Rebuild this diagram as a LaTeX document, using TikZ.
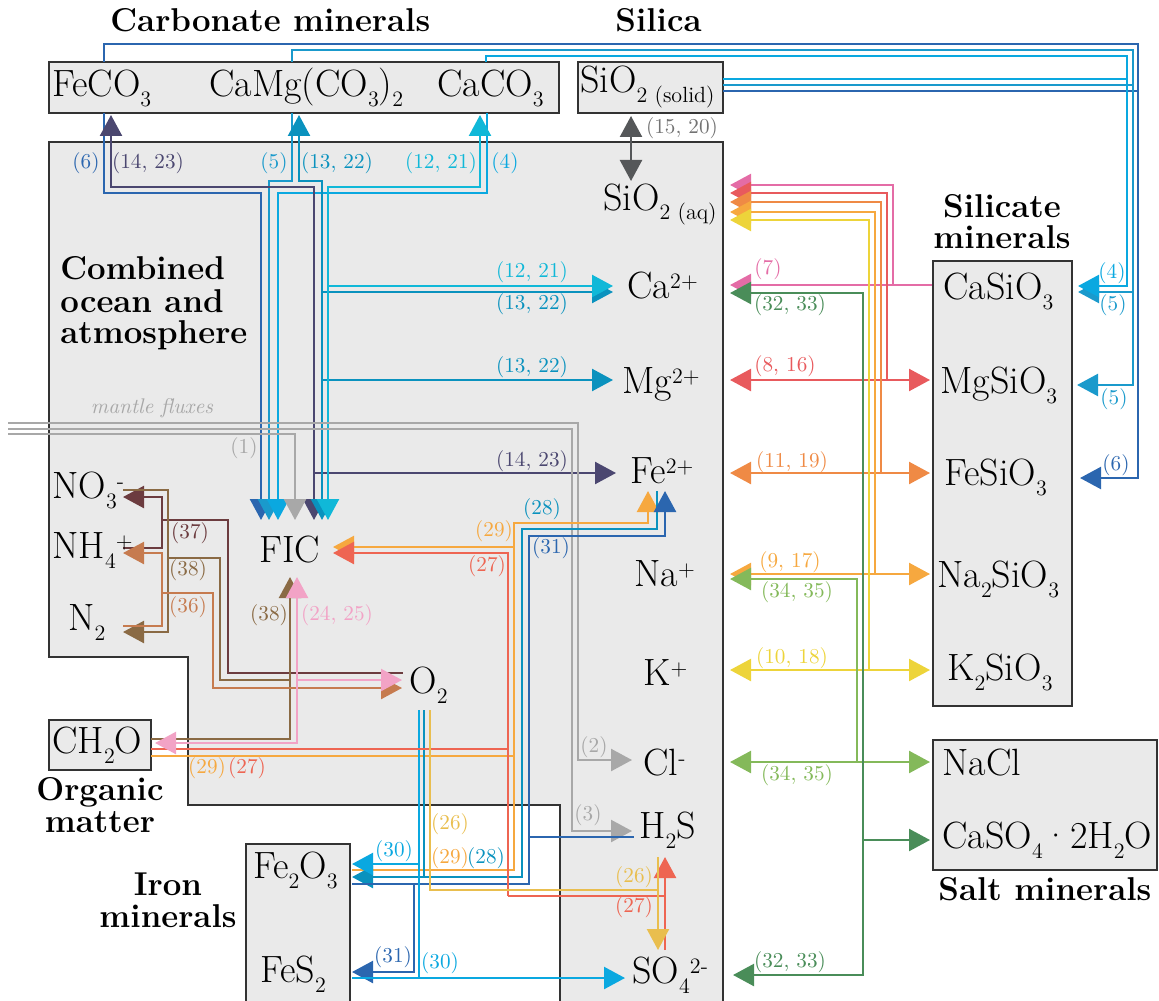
\documentclass[tikz,border=0pt]{standalone}
\usepackage{fontspec}
\usetikzlibrary{arrows.meta}
\newcommand{\chsub}[1]{\raisebox{-5pt}{\fontsize{11}{11}\selectfont #1}}
\newcommand{\chsup}[1]{\raisebox{5pt}{\fontsize{11}{11}\selectfont #1}}
\definecolor{boxgray}{HTML}{EAEAEA}
\definecolor{boxline}{HTML}{333333}
\definecolor{cSix}{HTML}{2B66AF}
\definecolor{cSlate}{HTML}{4B4770}
\definecolor{cTeal}{HTML}{0A92BE}
\definecolor{cFive}{HTML}{1A9ACC}
\definecolor{cFour}{HTML}{0AA8E0}
\definecolor{cCyan}{HTML}{10B8D8}
\definecolor{cMantle}{HTML}{A8A8A8}
\definecolor{cSilica}{HTML}{555759}
\definecolor{cPink}{HTML}{E46CA6}
\definecolor{cPinkL}{HTML}{F2A3C6}
\definecolor{cRed}{HTML}{E85A5D}
\definecolor{cRedO}{HTML}{EE6552}
\definecolor{cOrange}{HTML}{EF8A45}
\definecolor{cLOrange}{HTML}{F6A83F}
\definecolor{cYellow}{HTML}{EDD43A}
\definecolor{cGold}{HTML}{E9BE4E}
\definecolor{cGreenL}{HTML}{84B95A}
\definecolor{cGreenD}{HTML}{4A8D59}
\definecolor{cBrown}{HTML}{8A6A44}
\definecolor{cCopper}{HTML}{C67B4F}
\definecolor{cMaroon}{HTML}{6C3C3F}
\tikzset{
  flow/.style={line width=1.2pt},
  fwd/.style={flow,-{Triangle[length=10.5pt,width=11pt]}},
  twoway/.style={flow,{Triangle[length=10.5pt,width=11pt]}-{Triangle[length=10.5pt,width=11pt]}},
  panel/.style={draw=boxline,fill=boxgray,line width=0.6pt},
  spec/.style={font=\fontsize{19}{22}\selectfont,inner sep=0pt,anchor=base west},
  rate/.style={font=\fontsize{10.6}{12}\selectfont,inner sep=0pt},
  heading/.style={font=\fontsize{16.5}{16}\selectfont\bfseries,inner sep=0pt}
}
\begin{document}
\begin{tikzpicture}[x=0.5pt,y=-0.5pt]
  \useasboundingbox (0,0) rectangle (1159,1000);
  % reservoirs
  \draw[panel] (49,142) -- (723,142) -- (723,1010) -- (560,1010) -- (560,805)
    -- (188,805) -- (188,657) -- (49,657) -- cycle;
  \draw[panel] (49,62) rectangle (559,113);
  \draw[panel] (578,62) rectangle (723,113);
  \draw[panel] (49,720) rectangle (151,770);
  \draw[panel] (246,844) rectangle (350,1010);
  \draw[panel] (933,261) rectangle (1072,706);
  \draw[panel] (933,740) rectangle (1157,870);

  % carbonate <-> silicate
  \draw[fwd,cSix] (104,62) -- (104,44) -- (1138,44) -- (1138,478) -- (1080,478);
  \draw[flow,cSix] (723,91) -- (1138,91);
  \draw[fwd,cFive] (292,62) -- (292,50) -- (1133,50) -- (1133,385) -- (1077,385);
  \draw[fwd,cFive] (1133,292) -- (1078,292);
  \draw[flow,cFive] (723,85) -- (1133,85);
  \draw[fwd,cFour] (486,62) -- (486,56) -- (1127,56) -- (1127,286) -- (1078,286);
  \draw[flow,cFour] (723,79) -- (1127,79);

  % carbonate <-> ocean
  \draw[fwd,cSix] (104,113) -- (104,193) -- (261,193) -- (261,520);
  \draw[fwd,cFive] (292,113) -- (292,181) -- (269,181) -- (269,520);
  \draw[fwd,cFour] (487,113) -- (487,193) -- (278,193) -- (278,520);
  \draw[twoway,cSlate] (111,115) -- (111,187) -- (314,187) -- (314,520);
  \draw[fwd,cSlate] (314,473) -- (616,473);
  \draw[twoway,cTeal] (299,115) -- (299,181) -- (322,181) -- (322,520);
  \draw[fwd,cTeal] (322,292) -- (613,292);
  \draw[fwd,cTeal] (322,380) -- (613,380);
  \draw[twoway,cCyan] (480,115) -- (480,187) -- (328,187) -- (328,520);
  \draw[fwd,cCyan] (328,286) -- (613,286);

  % mantle
  \draw[fwd,cMantle] (8,434) -- (295,434) -- (295,520);
  \draw[fwd,cMantle] (8,423) -- (578,423) -- (578,760) -- (632,760);
  \draw[fwd,cMantle] (8,429) -- (572,429) -- (572,831) -- (632,831);

  \draw[twoway,cSilica] (631,116) -- (631,181);

  % silicate weathering
  \draw[fwd,cPink] (932,285) -- (730,285);
  \draw[fwd,cPink] (893,285) -- (893,185) -- (730,185);
  \draw[twoway,cRed] (730,380) -- (930,380);
  \draw[fwd,cRed] (887,380) -- (887,193) -- (730,193);
  \draw[twoway,cOrange] (730,473) -- (930,473);
  \draw[fwd,cOrange] (881,473) -- (881,202) -- (730,202);
  \draw[twoway,cLOrange] (730,574) -- (930,574);
  \draw[fwd,cLOrange] (875,574) -- (875,212) -- (730,212);
  \draw[twoway,cYellow] (730,670) -- (930,670);
  \draw[fwd,cYellow] (869,670) -- (869,220) -- (730,220);
  \draw[fwd,cGreenL] (857,762) -- (857,579) -- (730,579);
  \draw[twoway,cGreenL] (730,762) -- (930,762);
  \draw[fwd,cGreenD] (863,840) -- (863,293) -- (730,293);
  \draw[fwd,cGreenD] (863,840) -- (863,975) -- (733,975);
  \draw[fwd,cGreenD] (863,840) -- (930,840);

  % iron and sulfur
  \draw[fwd,cLOrange] (352,870) -- (514,870) -- (514,523) -- (648,523) -- (648,491);
  \draw[fwd,cLOrange] (514,547) -- (333,547);
  \draw[flow,cLOrange] (514,756) -- (151,756);
  \draw[fwd,cTeal] (657,491) -- (657,529) -- (522,529) -- (522,877) -- (352,877);
  \draw[flow,cTeal] (424,710) -- (424,877);
  \draw[fwd,cSix] (352,884) -- (529,884) -- (529,536) -- (665,536) -- (665,491);
  \draw[fwd,cSix] (414,884) -- (414,972) -- (352,972);
  \draw[flow,cSix] (529,837) -- (634,837);
  \draw[fwd,cFour] (419,710) -- (419,978) -- (625,978);
  \draw[fwd,cFour] (419,864) -- (352,864);
  \draw[flow,cFour] (352,978) -- (419,978);
  \draw[fwd,cRedO] (508,896) -- (508,553) -- (333,553);
  \draw[flow,cRedO] (508,749) -- (151,749);
  \draw[flow,cRedO] (508,896) -- (665,896);
  \draw[fwd,cRedO] (665,950) -- (665,857);
  \draw[flow,cGold] (430,710) -- (430,890) -- (658,890);
  \draw[fwd,cGold] (658,857) -- (658,950);

  % nitrogen and organic matter
  \draw[fwd,cMaroon] (123,548) -- (162,548) -- (162,497) -- (123,497);
  \draw[flow,cMaroon] (162,520) -- (228,520) -- (228,673) -- (403,673);
  \draw[fwd,cBrown] (123,490) -- (168,490) -- (168,632) -- (123,632);
  \draw[flow,cBrown] (168,558) -- (220,558) -- (220,680) -- (290,680);
  \draw[fwd,cBrown] (151,739) -- (290,739) -- (290,577);
  \draw[fwd,cCopper] (123,626) -- (162,626) -- (162,553) -- (123,553);
  \draw[fwd,cCopper] (162,593) -- (213,593) -- (213,688) -- (402,688);
  \draw[twoway,cPinkL] (297,577) -- (297,743) -- (155,743);
  \draw[fwd,cPinkL] (297,680) -- (402,680);

  % species
  \node[spec] (feco) at (52,97) {FeCO\chsub{3}};
  \node[spec] (dolo) at (209,97) {CaMg(CO\chsub{3})\chsub{2}};
  \node[spec] (caco) at (437,97) {CaCO\chsub{3}};
  \node[spec] (sisol) at (580,93) {SiO\chsub{2 (solid)}};
  \node[spec] (sioaq) at (603,210) {SiO\chsub{2 (aq)}};
  \node[spec] (ca) at (627,298) {Ca\chsup{2+}};
  \node[spec] (mg) at (622,393) {Mg\chsup{2+}};
  \node[spec] (fe) at (630,483) {Fe\chsup{2+}};
  \node[spec] (na) at (634,586) {Na\chsup{+}};
  \node[spec] (k) at (643,685) {K\chsup{+}};
  \node[spec] (cl) at (643,775) {Cl\chsup{-}};
  \node[spec] (hs) at (639,838) {H\chsub{2}S};
  \node[spec] (so) at (632,983) {SO\chsub{4}\chsup{2-}};
  \node[spec] (fic) at (259,562) {FIC};
  \node[spec] (ox) at (409,693) {O\chsub{2}};
  \node[spec] (nit) at (52,498) {NO\chsub{3}\chsup{-}};
  \node[spec] (amm) at (52,558) {NH\chsub{4}\chsup{+}};
  \node[spec] (dini) at (68,630) {N\chsub{2}};
  \node[spec] (org) at (52,753) {CH\chsub{2}O};
  \node[spec] (hem) at (253,878) {Fe\chsub{2}O\chsub{3}};
  \node[spec] (pyr) at (260,982) {FeS\chsub{2}};
  \node[spec] (wol) at (943,299) {CaSiO\chsub{3}};
  \node[spec] (ens) at (940,393) {MgSiO\chsub{3}};
  \node[spec] (fer) at (944,485) {FeSiO\chsub{3}};
  \node[spec] (nas) at (937,587) {Na\chsub{2}SiO\chsub{3}};
  \node[spec] (kas) at (947,680) {K\chsub{2}SiO\chsub{3}};
  \node[spec] (hal) at (942,775) {NaCl};
  \node[spec] (gyp) at (942,848) {CaSO\chsub{4}·2H\chsub{2}O};

  % reservoir titles
  \node[heading,anchor=base west] (carbT) at (110,32) {Carbonate minerals};
  \node[heading,anchor=base west] (silT) at (615,32) {Silica};
  \node[heading,anchor=base west] (oceanA) at (60,279) {Combined};
  \node[heading,anchor=base west] (oceanB) at (60,312) {ocean and};
  \node[heading,anchor=base west] (oceanC) at (60,343) {atmosphere};
  \node[heading,anchor=base] (silcA) at (1002,217) {Silicate};
  \node[heading,anchor=base] (silcB) at (1002,248) {minerals};
  \node[heading,anchor=base] (orgA) at (100,800) {Organic};
  \node[heading,anchor=base] (orgB) at (100,832) {matter};
  \node[heading,anchor=base] (ironA) at (168,895) {Iron};
  \node[heading,anchor=base] (ironB) at (168,927) {minerals};
  \node[heading,anchor=base west] (saltT) at (938,900) {Salt minerals};

  % reaction labels
  \node[rate,cSix] (l6a) at (86,163) {(6)};
  \node[rate,cSlate] (l14a) at (148,163) {(14, 23)};
  \node[rate,cFive] (l5a) at (274,163) {(5)};
  \node[rate,cTeal] (l13a) at (337,163) {(13, 22)};
  \node[rate,cCyan] (l12a) at (441,163) {(12, 21)};
  \node[rate,cFour] (l4a) at (505,163) {(4)};
  \node[rate,gray!90!black] (l15) at (682,128) {(15, 20)};
  \node[rate,cCyan] (l12b) at (532,272) {(12, 21)};
  \node[rate,cTeal] (l13b) at (532,304) {(13, 22)};
  \node[rate,cTeal] (l13c) at (532,367) {(13, 22)};
  \node[rate,cSlate] (l14b) at (532,461) {(14, 23)};
  \node[rate,cTeal] (l28a) at (542,509) {(28)};
  \node[rate,cLOrange] (l29a) at (494,531) {(29)};
  \node[rate,cSix] (l31a) at (551,548) {(31)};
  \node[rate,cRedO] (l27a) at (487,566) {(27)};
  \node[rate,cPink] (l7) at (768,269) {(7)};
  \node[rate,cGreenD] (l32a) at (790,305) {(32, 33)};
  \node[rate,cRed] (l8) at (785,366) {(8, 16)};
  \node[rate,cOrange] (l11) at (792,462) {(11, 19)};
  \node[rate,cLOrange] (l9) at (790,562) {(9, 17)};
  \node[rate,cGreenL] (l34a) at (797,592) {(34, 35)};
  \node[rate,cYellow] (l10) at (792,658) {(10, 18)};
  \node[rate,cGreenL] (l34b) at (797,775) {(34, 35)};
  \node[rate,cGreenD] (l32b) at (790,962) {(32, 33)};
  \node[rate,cFour] (l4b) at (1112,273) {(4)};
  \node[rate,cFive] (l5b) at (1113,305) {(5)};
  \node[rate,cFive] (l5c) at (1114,399) {(5)};
  \node[rate,cSix] (l6b) at (1116,465) {(6)};
  \node[rate,cMantle] (l1) at (244,448) {(1)};
  \node[rate,cMantle,font=\fontsize{10.6}{12}\selectfont\itshape] (mantle) at (152,408) {mantle fluxes};
  \node[rate,cMaroon] (l37) at (190,533) {(37)};
  \node[rate,cBrown] (l38a) at (188,570) {(38)};
  \node[rate,cCopper] (l36) at (188,607) {(36)};
  \node[rate,cBrown] (l38b) at (269,615) {(38)};
  \node[rate,cPinkL] (l24) at (337,615) {(24, 25)};
  \node[rate,cLOrange] (l29b) at (207,768) {(29)};
  \node[rate,cRedO] (l27b) at (247,768) {(27)};
  \node[rate,cMantle] (l2) at (594,747) {(2)};
  \node[rate,cMantle] (l3) at (588,815) {(3)};
  \node[rate,cGold] (l26a) at (450,824) {(26)};
  \node[rate,cLOrange] (l29c) at (450,858) {(29)};
  \node[rate,cTeal] (l28b) at (486,858) {(28)};
  \node[rate,cFour] (l30a) at (394,851) {(30)};
  \node[rate,cGold] (l26b) at (634,877) {(26)};
  \node[rate,cRedO] (l27c) at (634,907) {(27)};
  \node[rate,cSix] (l31b) at (393,957) {(31)};
  \node[rate,cFour] (l30b) at (440,963) {(30)};
\end{tikzpicture}
\end{document}
